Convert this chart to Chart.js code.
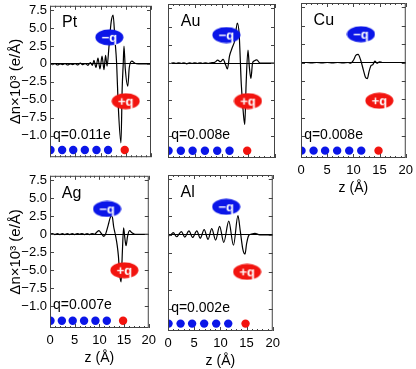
<!DOCTYPE html>
<html>
<head>
<meta charset="utf-8">
<script src="https://cdn.jsdelivr.net/npm/chart.js@4.4.0/dist/chart.umd.min.js"></script>
<style>
html, body { margin: 0; padding: 0; background: #fff; }
#wrap { position: relative; width: 416px; height: 369px; overflow: hidden; }
#wrap canvas { position: absolute; }
</style>
</head>
<body>
<div id="wrap"></div>
<script>
// charge density change along z
const zPt = [0, 0.5, 1, 1.5, 2, 2.5, 3, 3.5, 4, 4.5, 5, 5.5, 6, 6.5, 7, 7.5, 8, 8.4, 8.7, 9.1, 9.5, 9.9, 10.3, 10.7, 11.0, 11.3, 11.7, 12.1, 12.5, 12.85, 13.2, 13.5, 14.05, 14.3, 14.5, 14.65, 14.9, 15.4, 15.7, 16.2, 16.8, 17.5, 20];
const dnPt = [0, -0.1, 0.05, -0.15, 0, -0.1, 0.05, -0.15, 0, -0.1, 0.05, -0.15, 0.1, -0.1, 0.05, -0.2, 0.2, -0.2, 0.5, -0.5, 0.8, -0.7, 1.1, -0.8, 1.2, -0.3, 2.6, 5.8, 6.8, 3.5, 0, -5.6, -11.0, -3.3, 0, 2.5, -0.6, -3.1, -0.5, 0.4, 0.1, 0, 0];

const zAu = [0, 0.5, 1, 1.5, 2, 2.5, 3, 3.5, 4, 4.5, 5, 5.5, 6, 6.5, 7, 7.5, 8, 8.7, 9.3, 9.8, 10.3, 10.8, 11.1, 11.5, 12.0, 12.5, 12.95, 13.3, 13.7, 14.1, 14.35, 14.6, 14.95, 15.2, 15.5, 15.8, 16.1, 16.6, 17.2, 20];
const dnAu = [0, -0.05, 0.05, -0.05, 0.05, -0.05, 0.05, -0.1, 0.05, -0.05, 0.05, -0.05, 0.05, -0.05, 0.05, -0.05, 0.05, 0.1, 0.4, 0.2, 0.5, -0.3, -0.8, 1.0, 2.1, 3.2, 5.5, 4.0, -2.9, -7.0, -8.4, -2.9, 1.8, -0.5, -2.1, 0, 0.3, 0.45, 0, 0];

const zCu = [0, 1, 2, 3, 4, 5, 6, 7, 8, 9, 9.5, 10.0, 10.5, 10.9, 11.4, 11.9, 12.3, 12.65, 13.0, 13.4, 13.7, 14.1, 14.5, 15.0, 15.5, 20];
const dnCu = [0, 0, -0.05, 0, -0.05, 0, -0.05, 0, -0.05, 0, -0.1, 0.3, 1.0, 1.1, 0.3, -1.0, -2.0, -2.2, -1.2, -0.4, -0.3, 0.2, -0.1, 0.1, 0, 0];

const zAg = [0, 0.5, 1, 1.5, 2, 2.5, 3, 3.5, 4, 4.5, 5, 5.5, 6, 6.5, 7, 7.5, 8, 8.5, 9.0, 9.5, 9.9, 10.4, 10.9, 11.3, 11.8, 12.2, 12.55, 12.9, 13.3, 13.6, 13.85, 14.1, 14.4, 14.65, 14.9, 15.15, 15.4, 15.7, 16.1, 16.6, 17.2, 20];
const dnAg = [0, 0.1, -0.05, 0.1, -0.05, 0.1, -0.05, 0.1, -0.05, 0.1, -0.05, 0.1, 0, 0.1, -0.05, 0.1, -0.05, 0.1, 0, 0.3, 0.5, 0.1, -0.3, 0.1, 1.3, 2.3, 2.6, 1.0, -0.3, -1.5, -3.0, -5.5, -6.6, -2.5, 0.9, -0.5, -1.6, -0.3, 0.5, 0.2, 0, 0];

const zAl = [0, 0.35, 1.0, 1.65, 2.55, 3.2, 4.0, 4.7, 5.5, 6.15, 6.9, 7.65, 8.35, 9.1, 9.85, 10.65, 11.6, 12.5, 13.35, 13.8, 14.3, 14.7, 15.0, 15.4, 15.9, 16.6, 17.5, 20];
const dnAl = [0.1, -0.1, 0.3, -0.25, 0.45, -0.3, 0.55, -0.35, 0.55, -0.45, 0.7, -0.6, 0.85, -0.7, 1.15, -1.0, 1.85, -1.4, 2.6, 0.5, -2.0, -2.6, -1.2, -0.1, 0.1, 0.2, 0, 0];

const metals = ['Pt', 'Au', 'Cu', 'Ag', 'Al'];
const chargeText = ['q=0.011e', 'q=0.008e', 'q=0.008e', 'q=0.007e', 'q=0.002e'];
const curvesZ = [zPt, zAu, zCu, zAg, zAl];
const curvesDn = [dnPt, dnAu, dnCu, dnAg, dnAl];

// -q / +q badges
const minusQZ = [11.75, 10.9, 11.45, 11.55, 11.1];
const minusQDn = [3.7, 3.85, 3.85, 3.5, 3.8];
const plusQZ = [15.0, 14.95, 14.95, 15.05, 15.1];
const plusQDn = [-5.2, -5.2, -5.2, -5.0, -5.0];

// atom row
const atomZ = [0.1, 2.4, 4.6, 6.9, 9.2, 11.5];
const adatomZ = [14.8];
const atomDn = -12.0;

const nameZ = 2.4, nameDn = 5.7;
const qTextZ = 0.6, qTextDn = -9.9;

const yTickValues = [-10, -7.5, -5, -2.5, 0, 2.5, 5, 7.5];
const yTickLabels = ['\u22121.0', '\u22127.5', '\u22125.0', '\u22122.5', '0', '2.5', '5.0', '7.5'];
const xTickValues = [0, 5, 10, 15, 20];

const FONT = '"Liberation Sans", Arial, Helvetica, sans-serif';
const BLUE = '#0b16e8';
const RED = '#f2140f';

// plot area of each panel in the page
const boxes = [
    { l: 50, t: 5, w: 101, h: 153, showY: true, showX: false },
    { l: 168, t: 4, w: 107, h: 154, showY: false, showX: false },
    { l: 301, t: 3, w: 107, h: 155, showY: false, showX: true },
    { l: 50, t: 175, w: 101, h: 153, showY: true, showX: true },
    { l: 168, t: 175, w: 107, h: 156, showY: false, showX: true }
];

Chart.defaults.font.family = FONT;
Chart.defaults.color = '#000';

function chargeBadge(text, color) {
    var c = document.createElement('canvas');
    c.width = 29; c.height = 17;
    var g = c.getContext('2d');
    g.fillStyle = color;
    g.beginPath();
    g.ellipse(14.5, 8.5, 14, 8, 0, 0, Math.PI * 2);
    g.fill();
    g.fillStyle = '#fff';
    g.font = 'bold 13px ' + FONT;
    g.textAlign = 'center';
    g.textBaseline = 'middle';
    g.fillText(text, 14.5, 9);
    return c;
}
const minusBadge = chargeBadge('\u2212q', BLUE);
const plusBadge = chargeBadge('+q', RED);

const panelDecor = {
    id: 'panelDecor',
    afterDatasetsDraw(chart, args, opts) {
        const { ctx, scales: { x, y } } = chart;
        const i = opts.index;
        ctx.save();
        ctx.fillStyle = '#000';
        ctx.textBaseline = 'middle';
        ctx.textAlign = 'left';
        ctx.font = '16px ' + FONT;
        ctx.fillText(metals[i], x.getPixelForValue(nameZ), y.getPixelForValue(nameDn));
        ctx.font = '14px ' + FONT;
        ctx.fillText(chargeText[i], x.getPixelForValue(qTextZ), y.getPixelForValue(qTextDn));
        ctx.restore();
    },
    afterDraw(chart) {
        const { ctx, chartArea: a, scales: { x, y } } = chart;
        ctx.save();
        ctx.strokeStyle = '#444';
        ctx.lineWidth = 1;
        ctx.strokeRect(a.left + 0.5, a.top + 0.5, a.right - a.left - 1, a.bottom - a.top - 1);
        ctx.beginPath();
        yTickValues.forEach(v => {
            const py = Math.round(y.getPixelForValue(v)) + 0.5;
            ctx.moveTo(a.left, py); ctx.lineTo(a.left + 4, py);
            ctx.moveTo(a.right, py); ctx.lineTo(a.right - 4, py);
        });
        for (let z = 0; z <= 20; z++) {
            const px = Math.round(x.getPixelForValue(z)) + 0.5;
            const len = z % 5 === 0 ? 4 : 2;
            ctx.moveTo(px, a.top); ctx.lineTo(px, a.top + len);
            ctx.moveTo(px, a.bottom); ctx.lineTo(px, a.bottom - len);
        }
        ctx.stroke();
        ctx.restore();
    }
};

const PAD = 10;
const wrap = document.getElementById('wrap');

boxes.forEach((b, i) => {
    const yW = b.showY ? 47 : 0;
    const xH = b.showX ? 43 : 0;
    const cv = document.createElement('canvas');
    const cw = b.w + 2 * PAD + yW;
    const ch = b.h + 2 * PAD + xH;
    cv.width = cw; cv.height = ch;
    cv.style.width = cw + 'px'; cv.style.height = ch + 'px';
    cv.style.left = (b.l - PAD - yW) + 'px';
    cv.style.top = (b.t - PAD) + 'px';
    wrap.appendChild(cv);

    const zs = curvesZ[i], dn = curvesDn[i];
    new Chart(cv.getContext('2d'), {
        type: 'scatter',
        data: {
            datasets: [
                {
                    data: [{ x: minusQZ[i], y: minusQDn[i] }],
                    pointStyle: minusBadge, pointRadius: 8, order: 0
                },
                {
                    data: [{ x: plusQZ[i], y: plusQDn[i] }],
                    pointStyle: plusBadge, pointRadius: 8, order: 0
                },
                {
                    data: atomZ.map(z => ({ x: z, y: atomDn })),
                    pointRadius: 4.2, backgroundColor: BLUE, borderWidth: 0, clip: 0, order: 1
                },
                {
                    data: adatomZ.map(z => ({ x: z, y: atomDn })),
                    pointRadius: 4.2, backgroundColor: RED, borderWidth: 0, clip: 0, order: 1
                },
                {
                    data: zs.map((z, k) => ({ x: z, y: dn[k] })),
                    showLine: true, pointRadius: 0, borderColor: '#000', borderWidth: 1.2,
                    cubicInterpolationMode: 'monotone', clip: 0, order: 3
                }
            ]
        },
        options: {
            responsive: false,
            animation: false,
            events: [],
            layout: { padding: PAD },
            plugins: {
                legend: { display: false },
                tooltip: { enabled: false },
                panelDecor: { index: i }
            },
            scales: {
                x: {
                    type: 'linear', min: 0, max: 20,
                    afterBuildTicks: ax => { ax.ticks = xTickValues.map(v => ({ value: v })); },
                    afterFit: ax => { ax.height = xH; },
                    ticks: { display: b.showX, padding: 5, maxRotation: 0, autoSkip: false, font: { size: 13 } },
                    grid: { display: false, drawTicks: false },
                    border: { display: false },
                    title: { display: b.showX, text: 'z (\u00c5)', font: { size: 14 }, padding: { top: 0, bottom: 4 } }
                },
                y: {
                    type: 'linear', min: -13, max: 8.1,
                    afterBuildTicks: ax => { ax.ticks = yTickValues.map(v => ({ value: v })); },
                    afterFit: ax => { ax.width = yW; },
                    ticks: {
                        display: b.showY, padding: 3, font: { size: 13 },
                        callback: v => yTickLabels[yTickValues.indexOf(v)]
                    },
                    grid: {
                        drawTicks: false, lineWidth: 1,
                        color: c => (c.tick && c.tick.value === 0) ? '#000' : 'rgba(0,0,0,0)'
                    },
                    border: { display: false },
                    title: { display: b.showY, text: '\u0394n\u00d710\u00b3 (e/\u00c5)', font: { size: 15 }, padding: { top: 4, bottom: 0 } }
                }
            }
        },
        plugins: [panelDecor]
    });
});
</script>
</body>
</html>
